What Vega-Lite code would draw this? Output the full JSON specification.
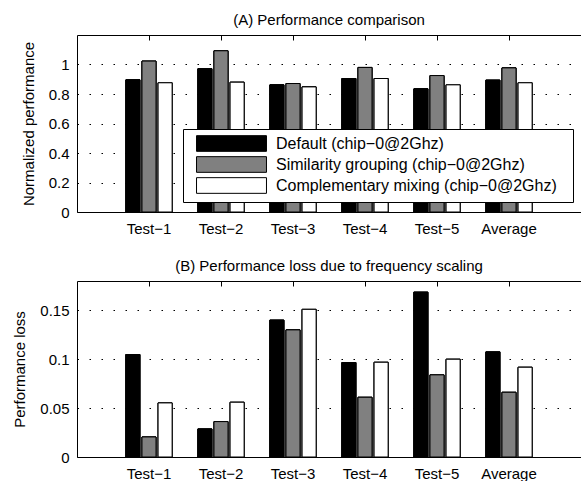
{
  "$schema": "https://vega.github.io/schema/vega-lite/v6.json",
  "padding": {"left": 12, "top": 12, "right": 0, "bottom": 0},
  "spacing": 22,
  "config": {
    "view": {"stroke": null},
    "font": "Liberation Sans",
    "axis": {"labelFont": "Liberation Sans", "titleFont": "Liberation Sans", "labelFontSize": 15, "titleFontSize": 15, "titleFontWeight": "normal", "labelColor": "#000", "titleColor": "#000", "domainColor": "#000", "tickColor": "#000", "domainWidth": 1},
    "title": {"font": "Liberation Sans", "fontSize": 15, "fontWeight": "normal", "color": "#000", "offset": 7, "anchor": "middle"}
  },
  "datasets": {
    "perf": [
      {"test": "Test−1", "config": "Default (chip−0@2Ghz)", "value": 0.896},
      {"test": "Test−1", "config": "Similarity grouping (chip−0@2Ghz)", "value": 1.023},
      {"test": "Test−1", "config": "Complementary mixing (chip−0@2Ghz)", "value": 0.876},
      {"test": "Test−2", "config": "Default (chip−0@2Ghz)", "value": 0.971},
      {"test": "Test−2", "config": "Similarity grouping (chip−0@2Ghz)", "value": 1.093},
      {"test": "Test−2", "config": "Complementary mixing (chip−0@2Ghz)", "value": 0.880},
      {"test": "Test−3", "config": "Default (chip−0@2Ghz)", "value": 0.862},
      {"test": "Test−3", "config": "Similarity grouping (chip−0@2Ghz)", "value": 0.871},
      {"test": "Test−3", "config": "Complementary mixing (chip−0@2Ghz)", "value": 0.848},
      {"test": "Test−4", "config": "Default (chip−0@2Ghz)", "value": 0.905},
      {"test": "Test−4", "config": "Similarity grouping (chip−0@2Ghz)", "value": 0.980},
      {"test": "Test−4", "config": "Complementary mixing (chip−0@2Ghz)", "value": 0.905},
      {"test": "Test−5", "config": "Default (chip−0@2Ghz)", "value": 0.835},
      {"test": "Test−5", "config": "Similarity grouping (chip−0@2Ghz)", "value": 0.925},
      {"test": "Test−5", "config": "Complementary mixing (chip−0@2Ghz)", "value": 0.862},
      {"test": "Average", "config": "Default (chip−0@2Ghz)", "value": 0.894},
      {"test": "Average", "config": "Similarity grouping (chip−0@2Ghz)", "value": 0.977},
      {"test": "Average", "config": "Complementary mixing (chip−0@2Ghz)", "value": 0.876}
    ],
    "loss": [
      {"test": "Test−1", "config": "Default (chip−0@2Ghz)", "value": 0.1048},
      {"test": "Test−1", "config": "Similarity grouping (chip−0@2Ghz)", "value": 0.0205},
      {"test": "Test−1", "config": "Complementary mixing (chip−0@2Ghz)", "value": 0.0553},
      {"test": "Test−2", "config": "Default (chip−0@2Ghz)", "value": 0.0287},
      {"test": "Test−2", "config": "Similarity grouping (chip−0@2Ghz)", "value": 0.0362},
      {"test": "Test−2", "config": "Complementary mixing (chip−0@2Ghz)", "value": 0.056},
      {"test": "Test−3", "config": "Default (chip−0@2Ghz)", "value": 0.140},
      {"test": "Test−3", "config": "Similarity grouping (chip−0@2Ghz)", "value": 0.130},
      {"test": "Test−3", "config": "Complementary mixing (chip−0@2Ghz)", "value": 0.151},
      {"test": "Test−4", "config": "Default (chip−0@2Ghz)", "value": 0.0966},
      {"test": "Test−4", "config": "Similarity grouping (chip−0@2Ghz)", "value": 0.0611},
      {"test": "Test−4", "config": "Complementary mixing (chip−0@2Ghz)", "value": 0.0969},
      {"test": "Test−5", "config": "Default (chip−0@2Ghz)", "value": 0.1686},
      {"test": "Test−5", "config": "Similarity grouping (chip−0@2Ghz)", "value": 0.084},
      {"test": "Test−5", "config": "Complementary mixing (chip−0@2Ghz)", "value": 0.100},
      {"test": "Average", "config": "Default (chip−0@2Ghz)", "value": 0.1075},
      {"test": "Average", "config": "Similarity grouping (chip−0@2Ghz)", "value": 0.0662},
      {"test": "Average", "config": "Complementary mixing (chip−0@2Ghz)", "value": 0.0918}
    ]
  },
  "vconcat": [
    {
      "title": "(A) Performance comparison",
      "width": 504,
      "height": 177,
      "data": {"name": "perf"},
      "resolve": {"axis": {"x": "independent", "y": "independent"}},
      "layer": [
        {
          "mark": {"type": "bar", "stroke": "#000", "strokeWidth": 1},
          "encoding": {
            "x": {"field": "test", "type": "nominal", "sort": null,
                  "scale": {"paddingInner": 0, "paddingOuter": 0.5},
                  "axis": {"title": null, "labelAngle": 0, "ticks": false, "labelPadding": 9, "bandPosition": 0.5}},
            "xOffset": {"field": "config", "type": "nominal", "sort": null,
                        "scale": {"domain": ["Default (chip−0@2Ghz)", "Similarity grouping (chip−0@2Ghz)", "Complementary mixing (chip−0@2Ghz)"], "paddingInner": 0.13, "paddingOuter": 0.8}},
            "y": {"field": "value", "type": "quantitative",
                  "scale": {"domain": [0, 1.2], "nice": false},
                  "axis": {"title": "Normalized performance", "values": [0, 0.2, 0.4, 0.6, 0.8, 1], "format": "~g", "ticks": false, "labelPadding": 8, "titlePadding": 12, "grid": true, "gridDash": [1.5, 10.5], "gridColor": "#000", "gridWidth": 1}},
            "fill": {"field": "config", "type": "nominal", "sort": null,
                     "scale": {"domain": ["Default (chip−0@2Ghz)", "Similarity grouping (chip−0@2Ghz)", "Complementary mixing (chip−0@2Ghz)"], "range": ["#000000", "#808080", "#ffffff"]},
                     "legend": {"title": null, "orient": "none", "legendX": 106, "legendY": 94,
                                "fillColor": "#fff", "strokeColor": "#000", "padding": 6,
                                "symbolType": "M-4.46,-1L4.46,-1L4.46,1L-4.46,1Z M42.5,0", "symbolSize": 246,
                                "symbolStrokeColor": "#000", "symbolStrokeWidth": 1, "symbolOpacity": 1,
                                "symbolOffset": 34, "labelOffset": 36, "rowPadding": 0,
                                "labelFont": "Liberation Sans", "labelFontSize": 16, "labelColor": "#000", "labelLimit": 400}}
          }
        },
        {
          "mark": {"type": "bar", "stroke": "#000", "strokeWidth": 1},
          "encoding": {
            "x": {"field": "test", "type": "nominal", "sort": null,
                  "axis": {"orient": "top", "title": null, "labels": false, "domain": false, "ticks": true, "tickSize": 5, "offset": -5, "bandPosition": 0.5}},
            "xOffset": {"field": "config", "type": "nominal", "sort": null},
            "y": {"field": "value", "type": "quantitative", "axis": null},
            "fill": {"field": "config", "type": "nominal", "sort": null, "legend": null}
          }
        },
        {
          "mark": {"type": "bar", "stroke": "#000", "strokeWidth": 1},
          "encoding": {
            "x": {"field": "test", "type": "nominal", "sort": null,
                  "axis": {"orient": "top", "title": null, "labels": false, "domain": true, "ticks": false}},
            "xOffset": {"field": "config", "type": "nominal", "sort": null},
            "y": {"field": "value", "type": "quantitative", "axis": null},
            "fill": {"field": "config", "type": "nominal", "sort": null, "legend": null}
          }
        }
      ]
    },
    {
      "title": "(B) Performance loss due to frequency scaling",
      "width": 504,
      "height": 176,
      "data": {"name": "loss"},
      "resolve": {"axis": {"x": "independent", "y": "independent"}},
      "layer": [
        {
          "mark": {"type": "bar", "stroke": "#000", "strokeWidth": 1},
          "encoding": {
            "x": {"field": "test", "type": "nominal", "sort": null,
                  "scale": {"paddingInner": 0, "paddingOuter": 0.5},
                  "axis": {"title": null, "labelAngle": 0, "ticks": false, "labelPadding": 9, "bandPosition": 0.5}},
            "xOffset": {"field": "config", "type": "nominal", "sort": null,
                        "scale": {"domain": ["Default (chip−0@2Ghz)", "Similarity grouping (chip−0@2Ghz)", "Complementary mixing (chip−0@2Ghz)"], "paddingInner": 0.13, "paddingOuter": 0.8}},
            "y": {"field": "value", "type": "quantitative",
                  "scale": {"domain": [0, 0.18], "nice": false},
                  "axis": {"title": "Performance loss", "values": [0, 0.05, 0.1, 0.15], "format": "~g", "ticks": false, "labelPadding": 8, "titlePadding": 12, "grid": true, "gridDash": [1.5, 10.5], "gridColor": "#000", "gridWidth": 1}},
            "fill": {"field": "config", "type": "nominal", "sort": null,
                     "scale": {"domain": ["Default (chip−0@2Ghz)", "Similarity grouping (chip−0@2Ghz)", "Complementary mixing (chip−0@2Ghz)"], "range": ["#000000", "#808080", "#ffffff"]},
                     "legend": null}
          }
        },
        {
          "mark": {"type": "bar", "stroke": "#000", "strokeWidth": 1},
          "encoding": {
            "x": {"field": "test", "type": "nominal", "sort": null,
                  "axis": {"orient": "top", "title": null, "labels": false, "domain": false, "ticks": true, "tickSize": 5, "offset": -5, "bandPosition": 0.5}},
            "xOffset": {"field": "config", "type": "nominal", "sort": null},
            "y": {"field": "value", "type": "quantitative", "axis": null},
            "fill": {"field": "config", "type": "nominal", "sort": null, "legend": null}
          }
        },
        {
          "mark": {"type": "bar", "stroke": "#000", "strokeWidth": 1},
          "encoding": {
            "x": {"field": "test", "type": "nominal", "sort": null,
                  "axis": {"orient": "top", "title": null, "labels": false, "domain": true, "ticks": false}},
            "xOffset": {"field": "config", "type": "nominal", "sort": null},
            "y": {"field": "value", "type": "quantitative", "axis": null},
            "fill": {"field": "config", "type": "nominal", "sort": null, "legend": null}
          }
        }
      ]
    }
  ],
  "resolve": {"scale": {"fill": "independent"}, "legend": {"fill": "independent"}}
}
